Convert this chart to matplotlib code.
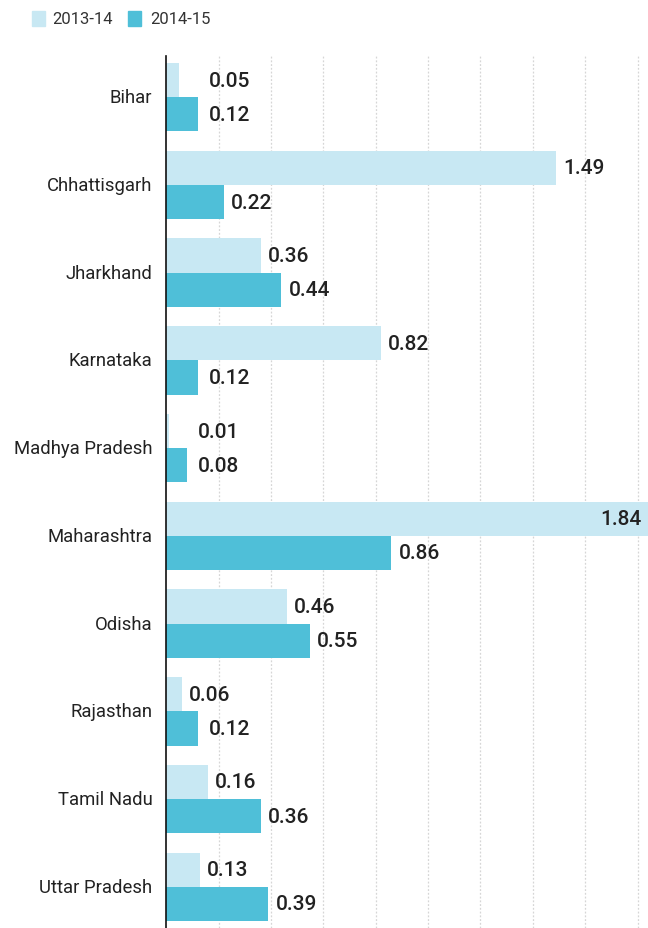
import matplotlib.pyplot as plt
from matplotlib.patches import Rectangle
import numpy as np

states = ["Bihar", "Chhattisgarh", "Jharkhand", "Karnataka", "Madhya Pradesh",
          "Maharashtra", "Odisha", "Rajasthan", "Tamil Nadu", "Uttar Pradesh"]
vals_2013 = [0.05, 1.49, 0.36, 0.82, 0.01, 1.84, 0.46, 0.06, 0.16, 0.13]
vals_2014 = [0.12, 0.22, 0.44, 0.12, 0.08, 0.86, 0.55, 0.12, 0.36, 0.39]
series_names = ["2013-14", "2014-15"]

LIGHT = "#c8e8f3"
DARK = "#4fbfd8"
TEXT = "#222222"

plt.rcParams['font.family'] = ['Roboto', 'DejaVu Sans']

fig = plt.figure(figsize=(6.48, 9.29), dpi=100)
ax = fig.add_axes([166.3 / 648, 0, 1 - 166.3 / 648, 872 / 929])

y = np.arange(len(states))
h = 0.39
ax.barh(y - h / 2, vals_2013, height=h, color=LIGHT, zorder=2)
ax.barh(y + h / 2, vals_2014, height=h, color=DARK, zorder=2)

ax.set_xlim(0, 1.84)
ax.set_ylim(9.47, -0.47)

for gx in np.arange(0.2, 1.81, 0.2):
    ax.axvline(gx, color="#d6d6d6", lw=0.9, ls=(0, (1.5, 1.5)), zorder=1)

# tiny first-year bars share their label column with the second-year label
align_pairs = {"Bihar", "Madhya Pradesh"}

for i, s in enumerate(states):
    a, b = vals_2013[i], vals_2014[i]
    ax.annotate(s, (0, i), xytext=(-10, 0), textcoords="offset points",
                ha="right", va="center", fontsize=13.3, color=TEXT)
    xa = b if s in align_pairs else a
    off_a = 11 if s in align_pairs else 7
    if a >= 1.8:
        ax.annotate(f"{a:.2f}", (a, i - h / 2), xytext=(-5, 0), textcoords="offset points",
                    ha="right", va="center", fontsize=15, fontweight="medium", color=TEXT)
    else:
        ax.annotate(f"{a:.2f}", (xa, i - h / 2), xytext=(off_a * 0.72, 0), textcoords="offset points",
                    ha="left", va="center", fontsize=15, fontweight="medium", color=TEXT)
    off_b = 11 if b < 0.15 else 7
    ax.annotate(f"{b:.2f}", (b, i + h / 2), xytext=(off_b * 0.72, 0), textcoords="offset points",
                ha="left", va="center", fontsize=15, fontweight="medium", color=TEXT)

for side in ["top", "right", "bottom"]:
    ax.spines[side].set_visible(False)
ax.spines["left"].set_color("#111111")
ax.spines["left"].set_linewidth(1.2)
ax.set_xticks([])
ax.set_yticks([])

# legend along the top
W, H = 648, 929
for (x0, tx), name, col in zip([(32, 52), (128, 150)], series_names, [LIGHT, DARK]):
    fig.patches.append(Rectangle((x0 / W, 1 - 27 / H), 13 / W, 15 / H, color=col,
                                 transform=fig.transFigure, figure=fig))
    fig.text(tx / W, 1 - 19.5 / H, name, ha="left", va="center", fontsize=12, color="#333333")

fig.savefig("out.png", dpi=100)
